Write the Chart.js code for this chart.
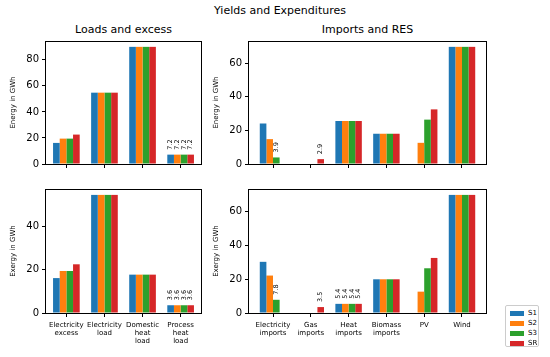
<!DOCTYPE html>
<html><head><meta charset="utf-8">
<script src="https://cdn.jsdelivr.net/npm/chart.js@4/dist/chart.umd.min.js"></script>
<style>
body{margin:0;background:#fff;width:550px;height:357px;overflow:hidden;position:relative;font-family:"DejaVu Sans",sans-serif;}
canvas{position:absolute;left:0;top:0;}
.t{position:absolute;font-size:11px;line-height:13px;white-space:nowrap;color:#000;transform:translateX(-50%);}
#legend{position:absolute;left:505px;top:305px;width:34px;height:42px;border:1px solid #cccccc;border-radius:2px;background:#fff;box-sizing:border-box;}
.li{position:absolute;left:4px;height:10px;width:30px;font-size:7px;line-height:10px;}
.sw{position:absolute;left:0;top:2.5px;width:14px;height:5px;}
.lt{position:absolute;left:18px;top:0;}
</style></head>
<body>
<div class="t" style="left:280px;top:4px">Yields and Expenditures</div>
<div class="t" style="left:123.5px;top:22.5px">Loads and excess</div>
<div class="t" style="left:367.5px;top:22.5px">Imports and RES</div>
<canvas id="c1" width="550" height="357"></canvas>
<canvas id="c2" width="550" height="357"></canvas>
<canvas id="c3" width="550" height="357"></canvas>
<canvas id="c4" width="550" height="357"></canvas>
<div id="legend"></div>
<script>
// ---- data ----
const scenarios = ['S1', 'S2', 'S3', 'SR'];
const colors = ['#1f77b4', '#ff7f0e', '#2ca02c', '#d62728'];

const loadCategories = [['Electricity','excess'], ['Electricity','load'], ['Domestic','heat','load'], ['Process','heat','load']];
const resCategories = [['Electricity','imports'], ['Gas','imports'], ['Heat','imports'], ['Biomass','imports'], 'PV', 'Wind'];

// Energy, loads and excess (GWh)
const energyLoadsS1 = [16.2, 54.8, 90.0, 7.2];
const energyLoadsS2 = [19.5, 54.8, 90.0, 7.2];
const energyLoadsS3 = [19.5, 54.8, 90.0, 7.2];
const energyLoadsSR = [22.6, 54.8, 90.0, 7.2];

// Energy, imports and RES (GWh)
const energyResS1 = [24.1, 0, 25.6, 18.0, 0, 69.7];
const energyResS2 = [14.8, 0, 25.6, 18.0, 12.6, 69.7];
const energyResS3 = [3.9, 0, 25.6, 18.0, 26.4, 69.7];
const energyResSR = [0, 2.9, 25.6, 18.0, 32.5, 69.7];

// Exergy, loads and excess (GWh)
const exergyLoadsS1 = [16.2, 54.8, 17.8, 3.6];
const exergyLoadsS2 = [19.5, 54.8, 17.8, 3.6];
const exergyLoadsS3 = [19.5, 54.8, 17.8, 3.6];
const exergyLoadsSR = [22.6, 54.8, 17.8, 3.6];

// Exergy, imports and RES (GWh)
const exergyResS1 = [30.2, 0, 5.4, 19.9, 0, 69.7];
const exergyResS2 = [22.1, 0, 5.4, 19.9, 12.6, 69.7];
const exergyResS3 = [7.8, 0, 5.4, 19.9, 26.4, 69.7];
const exergyResSR = [0, 3.5, 5.4, 19.9, 32.5, 69.7];

const yTickStep = 20;
const FONT = '"DejaVu Sans", sans-serif';

// ---- plugins ----
const framePlugin = {
  id: 'frame',
  afterDraw(chart) {
    const a = chart.chartArea, ctx = chart.ctx;
    ctx.save();
    ctx.strokeStyle = '#000';
    ctx.lineWidth = 1;
    ctx.strokeRect(Math.round(a.left) - 0.5, Math.round(a.top) + 0.5, Math.round(a.right) - Math.round(a.left) + 1, Math.round(a.bottom) - Math.round(a.top) - 0.0);
    ctx.restore();
  }
};
const valueLabelPlugin = {
  id: 'valueLabels',
  afterDatasetsDraw(chart) {
    const ctx = chart.ctx;
    ctx.save();
    ctx.font = '6.5px ' + FONT;
    ctx.fillStyle = '#000';
    ctx.textAlign = 'left';
    ctx.textBaseline = 'middle';
    chart.data.datasets.forEach((ds, i) => {
      chart.getDatasetMeta(i).data.forEach((bar, j) => {
        const v = ds.data[j];
        if (v > 0 && v < 10) {
          ctx.save();
          ctx.translate(bar.x, bar.y - 5);
          ctx.rotate(-Math.PI / 2);
          ctx.fillText(v.toFixed(1), 0, 0);
          ctx.restore();
        }
      });
    });
    ctx.restore();
  }
};

function mplMargins(scale) {
  const n = scale.getLabels().length;
  const w = 0.175;
  const R = (n - 1) + 4 * w;
  scale._startValue = -2 * w - 0.05 * R;
  scale._valueRange = R * 1.1;
}

function makeChart(id, labels, series, box, yTitle, showX) {
  const xh = showX ? 44 : 8;
  const ymax = Math.max(...series.flat()) * 1.05;
  return new Chart(document.getElementById(id), {
    type: 'bar',
    data: {
      labels: labels,
      datasets: series.map((d, i) => ({
        label: scenarios[i], data: d, backgroundColor: colors[i], borderWidth: 0,
        categoryPercentage: 0.7, barPercentage: 1.0
      }))
    },
    options: {
      responsive: false, animation: false, devicePixelRatio: 1,
      layout: { padding: { left: box.axL, right: 550 - box.r, top: box.t, bottom: 357 - box.b - xh } },
      plugins: { legend: { display: false }, tooltip: { enabled: false }, title: { display: false } },
      scales: {
        x: {
          offset: true,
          grid: { display: true, drawOnChartArea: false, drawTicks: true, tickLength: 4, color: '#000', offset: false },
          border: { display: false },
          ticks: { display: showX, autoSkip: false, maxRotation: 0, minRotation: 0, padding: 4, color: '#000',
                   font: { family: FONT, size: 7, lineHeight: 1.15 } },
          afterBuildTicks: mplMargins,
          afterFit: (s) => { s.height = xh; }
        },
        y: {
          min: 0, max: ymax,
          grid: { display: true, drawOnChartArea: false, drawTicks: true, tickLength: 4, color: '#000' },
          border: { display: false },
          ticks: { stepSize: yTickStep, includeBounds: false, padding: 3, color: '#000', font: { family: FONT, size: 10 } },
          title: { display: true, text: yTitle, color: '#000', font: { family: FONT, size: 7, lineHeight: 1.2 }, padding: { top: 0, bottom: 0 } },
          afterFit: (s) => { s.width = box.l - box.axL; }
        }
      }
    },
    plugins: [framePlugin, valueLabelPlugin]
  });
}

makeChart('c1', loadCategories, [energyLoadsS1, energyLoadsS2, energyLoadsS3, energyLoadsSR],
  { l: 46, r: 201, t: 41, b: 164, axL: 9 }, 'Energy in GWh', false);
makeChart('c2', resCategories, [energyResS1, energyResS2, energyResS3, energyResSR],
  { l: 249, r: 486, t: 41, b: 164, axL: 212 }, 'Energy in GWh', false);
makeChart('c3', loadCategories, [exergyLoadsS1, exergyLoadsS2, exergyLoadsS3, exergyLoadsSR],
  { l: 46, r: 201, t: 189, b: 313, axL: 9 }, 'Exergy in GWh', true);
makeChart('c4', resCategories, [exergyResS1, exergyResS2, exergyResS3, exergyResSR],
  { l: 249, r: 486, t: 189, b: 313, axL: 212 }, 'Exergy in GWh', true);

// legend
const lg = document.getElementById('legend');
scenarios.forEach((s, i) => {
  const row = document.createElement('div');
  row.className = 'li';
  row.style.top = (2 + i * 10) + 'px';
  row.innerHTML = '<span class="sw" style="background:' + colors[i] + '"></span><span class="lt">' + s + '</span>';
  lg.appendChild(row);
});
</script>
</body></html>
